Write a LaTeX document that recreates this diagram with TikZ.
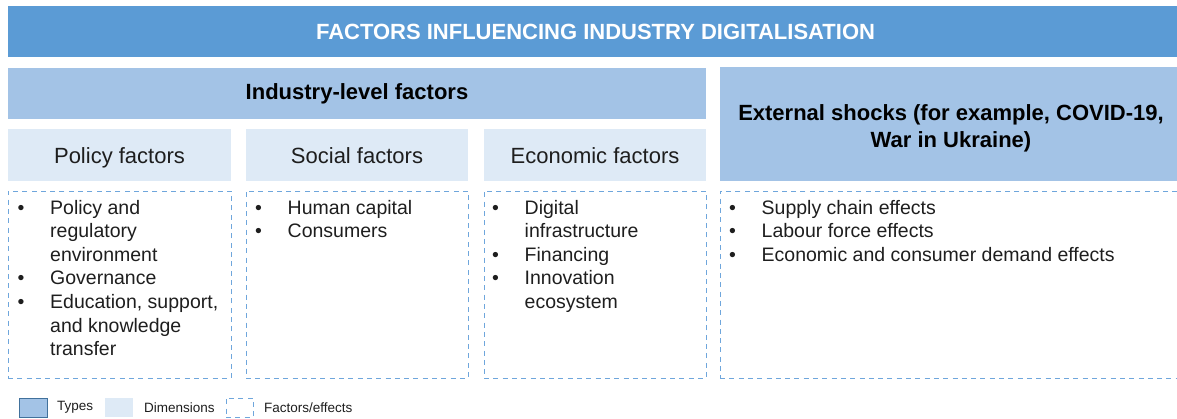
\documentclass[tikz,border=0pt]{standalone}
\usepackage{fontspec}
\setmainfont{Liberation Sans}
\usepackage{array}

\definecolor{typeblue}{HTML}{5B9BD5}
\definecolor{typelight}{HTML}{A3C3E6}
\definecolor{dimfill}{HTML}{DEEAF6}
\definecolor{dashblue}{HTML}{6FA6DC}
\definecolor{legendedge}{HTML}{41719C}
\definecolor{textgrey}{HTML}{1E1E1E}

\newcommand{\itemlist}[1]{%
  \fontsize{19.5}{23.6}\selectfont
  \begin{tabular}[t]{@{}p{32.5pt}@{}l@{}}#1\end{tabular}}

\tikzset{
  x=1pt, y=-1pt,
  panel/.style={anchor=north west, inner sep=0pt, outer sep=0pt, draw=none},
  titlebar/.style={panel, fill=typeblue, text=white,
    font=\fontsize{22}{26}\selectfont\bfseries},
  typebox/.style={panel, fill=typelight, text=black,
    font=\fontsize{22}{27}\selectfont\bfseries, align=center},
  dimbox/.style={panel, fill=dimfill, text=textgrey,
    font=\fontsize{22}{26}\selectfont, text height=21pt, text depth=5pt},
  effectbox/.style={panel, draw=dashblue, line width=1pt,
    dash pattern=on 5pt off 4.3pt},
  itemtext/.style={anchor=base west, inner sep=0pt, text=textgrey},
  legendtext/.style={anchor=west, inner sep=0pt, text=textgrey,
    font=\fontsize{13.5}{16}\selectfont},
}

\begin{document}
\begin{tikzpicture}
\useasboundingbox (0,0) rectangle (1177,418);

% main heading
\node[titlebar, minimum width=1175pt, minimum height=51pt] (title) at (8,6)
  {FACTORS INFLUENCING INDUSTRY DIGITALISATION};

% types
\node[typebox, minimum width=698pt, minimum height=51pt] (industry) at (8,68)
  {Industry-level factors};
\node[typebox, minimum width=462pt, minimum height=114pt] (shocks) at (720,67) {};
\node[typebox, fill=none, anchor=center, yshift=-4pt] (shockstext) at (shocks.center)
  {External shocks (for example, COVID-19,\\War in Ukraine)};

% dimensions
\node[dimbox, minimum width=223pt, minimum height=52pt] (policy) at (8,129) {Policy factors};
\node[dimbox, minimum width=222pt, minimum height=52pt] (social) at (246,129) {Social factors};
\node[dimbox, minimum width=222pt, minimum height=52pt] (economic) at (484,129) {Economic factors};

% factors / effects
\node[effectbox, minimum width=223pt, minimum height=187pt] (policyfx) at (8,191) {};
\node[effectbox, minimum width=222pt, minimum height=187pt] (socialfx) at (246,191) {};
\node[effectbox, minimum width=222pt, minimum height=187pt] (economicfx) at (484,191) {};
\node[effectbox, minimum width=470pt, minimum height=187pt] (shocksfx) at (720,191) {};

\node[itemtext] (policylist) at (17.5,214) {\itemlist{%
  \textbullet & Policy and\\
              & regulatory\\
              & environment\\
  \textbullet & Governance\\
  \textbullet & Education, support,\\
              & and knowledge\\
              & transfer}};
\node[itemtext] (sociallist) at (255,214) {\itemlist{%
  \textbullet & Human capital\\
  \textbullet & Consumers}};
\node[itemtext] (economiclist) at (492,214) {\itemlist{%
  \textbullet & Digital\\
              & infrastructure\\
  \textbullet & Financing\\
  \textbullet & Innovation\\
              & ecosystem}};
\node[itemtext] (shockslist) at (729,214) {\itemlist{%
  \textbullet & Supply chain effects\\
  \textbullet & Labour force effects\\
  \textbullet & Economic and consumer demand effects}};

% legend
\node[panel, fill=typelight, draw=legendedge, line width=1pt,
      minimum width=28pt, minimum height=19pt] (keytypes) at (19,398) {};
\node[legendtext] (keytypeslabel) at (57,407.5) {Types};
\node[panel, fill=dimfill, minimum width=28pt, minimum height=19pt] (keydims) at (105,398) {};
\node[legendtext] (keydimslabel) at (144,407.5) {Dimensions};
\node[effectbox, minimum width=27pt, minimum height=19pt] (keyfx) at (226,398) {};
\node[legendtext] (keyfxlabel) at (264,407.5) {Factors/effects};
\end{tikzpicture}
\end{document}
